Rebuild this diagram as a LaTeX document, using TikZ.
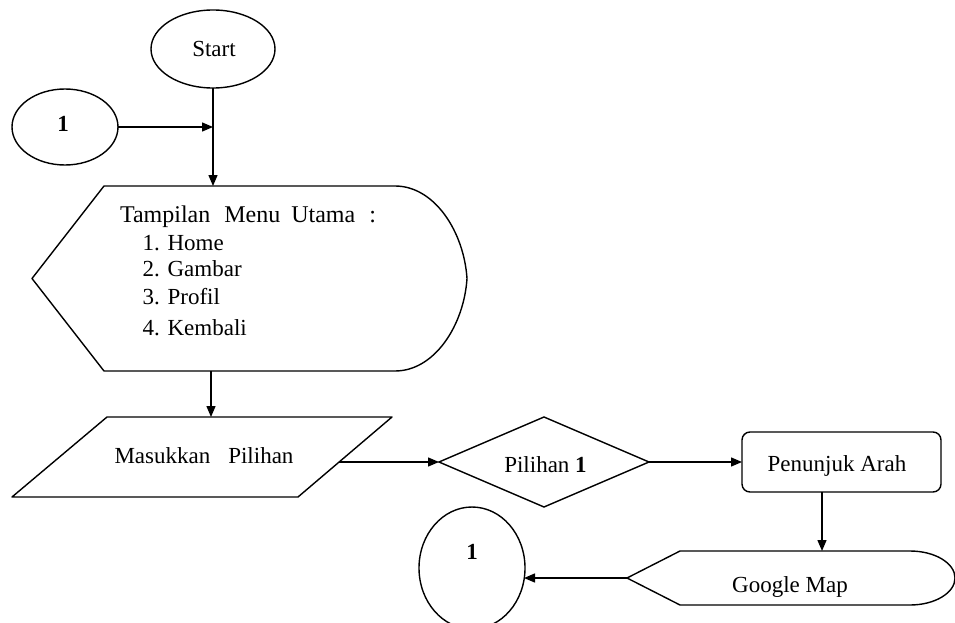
\documentclass[tikz,border=0pt]{standalone}
\usepackage{fontspec}
\setmainfont{Liberation Serif}
\usetikzlibrary{shapes.geometric,arrows.meta}
\begin{document}
\begin{tikzpicture}[x=1pt,y=-1pt,
  every node/.style={inner sep=0pt, outer sep=0pt, font=\fontsize{23}{27}\selectfont},
  shp/.style={draw, line width=1.4pt},
  ln/.style={line width=1.4pt, line join=round},
  arr/.style={line width=1.4pt, -{Triangle[length=11pt,width=9pt]}},
  txt/.style={anchor=base},
  ltxt/.style={anchor=base west},
]
\clip (0,0) rectangle (955,623);

% Start and connector "1"
\node[shp, ellipse, minimum width=124pt, minimum height=78pt] (start) at (213,49) {};
\node[txt] (startT) at (214,56.7) {Start};
\node[shp, ellipse, minimum width=106pt, minimum height=76pt] (c1) at (65,127) {};
\node[txt] (c1T) at (63,131.7) {\textbf{1}};

% Display: Tampilan Menu Utama
\node[minimum width=435pt, minimum height=185pt] (disp) at (249.5,278.5) {};
\draw[ln] (disp.west) -- (104,186) -- (395,186)
  .. controls (434.7,186) and (464,232) .. (disp.east)
  .. controls (464,325) and (434.7,371) .. (395,371)
  -- (104,371) -- cycle;
\node[ltxt, font=\fontsize{24}{28}\selectfont] (title) at (120,222) {Tampilan\hspace{14pt}Menu\hspace{11pt}Utama\hspace{14pt}:};
\node[ltxt] (m1) at (142.7,250) {1. Home};
\node[ltxt] (m2) at (142.7,276.5) {2. Gambar};
\node[ltxt] (m3) at (142.7,304) {3. Profil};
\node[ltxt] (m4) at (142.7,335.5) {4. Kembali};

% Input: Masukkan Pilihan
\node[minimum width=380pt, minimum height=80pt] (inp) at (202,457) {};
\draw[ln] (12,497) -- (107,417) -- (392,417) -- (298,497) -- cycle;
\node[txt] (inpT) at (204,463) {Masukkan\hspace{18pt}Pilihan};
\coordinate (inpE) at (339,462);

% Decision
\node[shp, diamond, minimum width=210pt, minimum height=90pt] (dia) at (544,462) {};
\node[txt] (diaT) at (545.5,472.5) {Pilihan \textbf{1}};

% Process box
\node[shp, rectangle, rounded corners=8pt, minimum width=199pt, minimum height=60pt] (pbox) at (841.5,462) {};
\node[txt] (pboxT) at (837,471) {Penunjuk Arah};

% Display: Google Map
\node[minimum width=328pt, minimum height=54pt] (gm) at (791,578) {};
\draw[ln] (gm.west) -- (680,551) -- (910,551)
  .. controls (934.8,551) and (955,563.1) .. (955,578)
  .. controls (955,592.9) and (934.8,605) .. (910,605)
  -- (680,605) -- cycle;
\node[txt] (gmT) at (790,592) {Google Map};

% Off-page connector "1"
\node[shp, ellipse, minimum width=106pt, minimum height=122pt] (bot) at (472,568) {};
\node[txt] (botT) at (472,559) {\textbf{1}};

% Connectors
\draw[arr] (start.south) -- (start.south |- disp.north);
\draw[arr] (c1.east) -- (c1.east -| start.south);
\draw[arr] ([xshift=-2pt]start.south |- disp.south) -- ([xshift=-2pt]start.south |- inp.north);
\draw[arr] (inpE) -- (dia.west);
\draw[arr] (dia.east) -- (pbox.west);
\draw[arr] ([xshift=-19.5pt]pbox.south) -- ([xshift=-19.5pt]pbox.south |- gm.north);
\draw[arr] (gm.west) -- ([xshift=-1pt]gm.west -| bot.east);
\end{tikzpicture}
\end{document}
